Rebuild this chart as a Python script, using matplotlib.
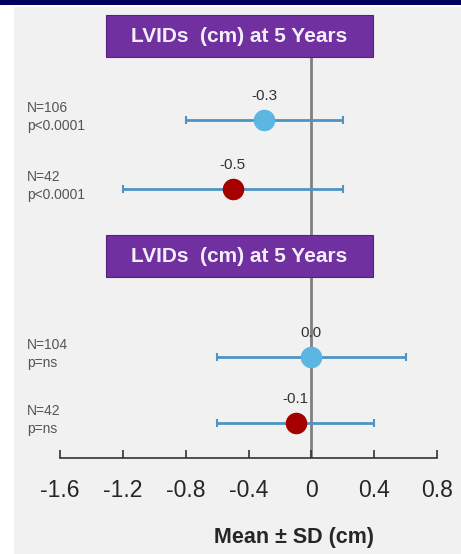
import matplotlib
matplotlib.use("Agg")
import matplotlib.pyplot as plt
from matplotlib.patches import Rectangle

# Data
panel_titles = ["LVIDs  (cm) at 5 Years", "LVIDs  (cm) at 5 Years"]
means = [-0.3, -0.5, 0.0, -0.1]
sds = [0.5, 0.7, 0.6, 0.5]
value_labels = ["-0.3", "-0.5", "0.0", "-0.1"]
n_labels = ["N=106", "N=42", "N=104", "N=42"]
p_labels = ["p<0.0001", "p<0.0001", "p=ns", "p=ns"]
colors = ["#5bb6e2", "#a50000", "#5bb6e2", "#a50000"]
xticks = [-1.6, -1.2, -0.8, -0.4, 0, 0.4, 0.8]
xtick_labels = ["-1.6", "-1.2", "-0.8", "-0.4", "0", "0.4", "0.8"]

# Layout (pixel rows measured from the top of the figure)
W, H = 461, 554
row_y = [120, 189, 357, 423]
box_top = [15, 235]
box_h = 42
box_x0, box_x1 = 106, 373

plt.rcParams["font.family"] = ["Liberation Sans", "DejaVu Sans"]

fig = plt.figure(figsize=(W / 100, H / 100), dpi=100, facecolor="white")

# background panel and top band
fig.patches.append(Rectangle((14 / W, 0), 1 - 14 / W, 1 - 7 / H,
                             transform=fig.transFigure, facecolor="#f1f1f1",
                             edgecolor="none", zorder=-10))
fig.patches.append(Rectangle((0, 1 - 5 / H), 1, 5 / H,
                             transform=fig.transFigure, facecolor="#00005e",
                             edgecolor="none", zorder=-10))

ax_left, ax_right = 60, 437
ax_top, ax_bottom = 8, 458
ax = fig.add_axes([ax_left / W, 1 - ax_bottom / H,
                   (ax_right - ax_left) / W, (ax_bottom - ax_top) / H])
ax.set_facecolor("none")
ax.set_xlim(-1.6, 0.8)
ax.set_ylim(ax_bottom, ax_top)

for s in ["top", "right", "left"]:
    ax.spines[s].set_visible(False)
ax.spines["bottom"].set_color("#333333")
ax.spines["bottom"].set_linewidth(1.2)
ax.set_yticks([])
ax.set_xticks(xticks)
ax.set_xticklabels(xtick_labels, fontsize=16.5, color="#262626")
ax.tick_params(axis="x", direction="in", length=6, width=1.2, color="#333333", pad=15)
ax.set_xlabel("Mean ± SD (cm)", fontsize=15.5, fontweight="bold", color="#262626")
ax.xaxis.set_label_coords((294 - ax_left) / (ax_right - ax_left),
                          -(537 - ax_bottom) / (ax_bottom - ax_top))
ax.xaxis.label.set_verticalalignment("center")

# zero reference line
ax.plot([0, 0], [box_top[0] + box_h, ax_bottom], color="#808080", lw=2, zorder=1)

for m, sd, c, y, lab in zip(means, sds, colors, row_y, value_labels):
    ax.errorbar(m, y, xerr=sd, fmt="none", ecolor="#4f93c2", elinewidth=2,
                capsize=3, capthick=1.5, zorder=2)
    ax.plot(m, y, "o", ms=14.5, color=c, mec=c, zorder=3)
    ax.text(m, y - 24, lab, ha="center", va="center", fontsize=11, color="#333333")

for y, nl, pl in zip(row_y, n_labels, p_labels):
    fig.text(27 / W, 1 - (y - 12) / H, nl, ha="left", va="center", fontsize=10, color="#555555")
    fig.text(27 / W, 1 - (y + 6) / H, pl, ha="left", va="center", fontsize=10, color="#555555")

for t, title in zip(box_top, panel_titles):
    fig.patches.append(Rectangle((box_x0 / W, 1 - (t + box_h) / H),
                                 (box_x1 - box_x0) / W, box_h / H,
                                 transform=fig.transFigure, facecolor="#7030a0",
                                 edgecolor="#5a2080", lw=0.8, zorder=5))
    fig.text((box_x0 + box_x1) / 2 / W, 1 - (t + box_h / 2) / H, title,
             ha="center", va="center", fontsize=15, fontweight="bold",
             color="#f4eefa", zorder=6)

fig.savefig("out.png", dpi=100, facecolor="white")
